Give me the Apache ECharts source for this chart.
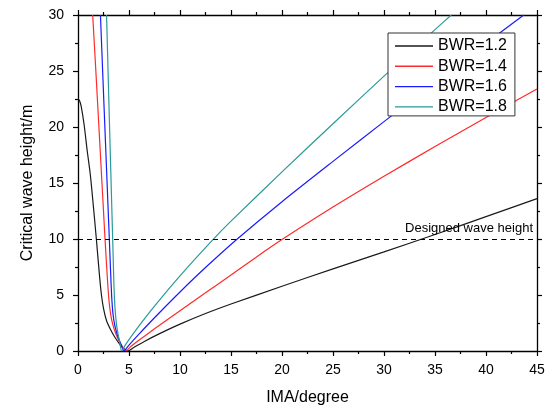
<!DOCTYPE html>
<html>
<head>
<meta charset="utf-8">
<script src="https://cdn.jsdelivr.net/npm/echarts@6/dist/echarts.min.js"></script>
<style>
html,body{margin:0;padding:0;background:#fff;}
#c{width:547px;height:405px;}
</style>
</head>
<body>
<div id="c"></div>
<script>
// Data: [IMA (degree), critical wave height (m)]
const bwr12 = [[0,22.5],[0.15,22.35],[0.3,21.9],[0.6,20.2],[0.9,17.9],[1.2,15.8],[1.5,13.0],[1.8,10.0],[2.1,6.8],[2.3,5.0],[2.5,3.8],[2.8,2.7],[3.2,1.9],[3.6,1.25],[4.1,0.6],[4.5,0.2],[4.9,0],
  [5.5,0.33],[6.5,0.85],[8,1.55],[10,2.4],[12.5,3.35],[15,4.2],[20,5.78],[25,7.33],[30,8.85],[35,10.4],[40,12.0],[45,13.6]];
const bwr14 = [[1.44,30],[1.75,25],[2.05,20],[2.35,15],[2.65,10],[2.9,6.2],[3.05,4.4],[3.2,3.3],[3.4,2.4],[3.7,1.55],[4.0,0.95],[4.35,0.4],[4.7,0],
  [5.2,0.42],[6,0.98],[7.5,1.98],[10,3.6],[12.5,5.2],[15,6.78],[17.5,8.4],[20,9.95],[25,12.85],[30,15.6],[35,18.25],[40,20.85],[45,23.4]];
const bwr16 = [[2.2,30],[2.45,24.2],[2.7,18.5],[2.9,13.9],[3.08,9.8],[3.2,7.0],[3.3,4.9],[3.42,3.4],[3.6,2.3],[3.85,1.45],[4.1,0.85],[4.3,0.4],[4.5,0],
  [5,0.53],[6,1.53],[7.5,2.97],[10,5.27],[12.5,7.45],[15.5,9.91],[20,13.33],[25,16.93],[30,20.48],[35,23.98],[40,27.48],[43.7,30]];
const bwr18 = [[2.8,30],[2.97,24.2],[3.2,16.5],[3.4,10],[3.5,6.6],[3.57,4.8],[3.67,3.3],[3.8,2.2],[3.95,1.4],[4.1,0.75],[4.28,0],
  [4.6,0.48],[5,1.02],[6,2.27],[7.5,4.01],[10,6.71],[13.3,10.01],[15,11.59],[20,15.99],[25,20.29],[30,24.54],[35,28.69],[36.6,30]];
const seriesNames = ['BWR=1.2','BWR=1.4','BWR=1.6','BWR=1.8'];
const seriesColors = ['#1a1a1a','#ff2a2a','#1a1aff','#2a9a9a'];
const designedHeight = 10;
const designedLabel = 'Designed wave height';
const xRange = [0,45], xStep = 5;
const yRange = [0,30], yStep = 5;
const xName = 'IMA/degree';
const yName = 'Critical wave height/m';

const chart = echarts.init(document.getElementById('c'), null, {renderer:'canvas'});
const FONT = 'Liberation Sans, Arial, sans-serif';
const axisBase = {
  type:'value', splitLine:{show:false},
  axisLine:{show:true, onZero:false, lineStyle:{color:'#000', width:1.3}},
  axisTick:{show:true, inside:false, length:5, lineStyle:{color:'#000', width:1.2}},
  minorTick:{show:true, splitNumber:2, length:3, lineStyle:{color:'#000', width:1.2}},
  minorSplitLine:{show:false}
};
const datasets = [bwr12, bwr14, bwr16, bwr18];
const series = datasets.map((d,i)=>{
  const s = {
    name: seriesNames[i], type:'line', data:d, symbol:'none', showSymbol:false, smooth:0.25,
    lineStyle:{color:seriesColors[i], width:1.2}, itemStyle:{color:seriesColors[i]},
    clip:true, animation:false
  };
  if (i===0) {
    s.markLine = {
      silent:true, symbol:['none','none'], animation:false,
      lineStyle:{color:'#000', type:[5,4], width:1.1},
      label:{show:true, position:'insideEndTop', formatter:designedLabel, color:'#000', fontSize:13, fontFamily:FONT, distance:[4,4]},
      data:[{yAxis:designedHeight}]
    };
  }
  return s;
});
chart.setOption({
  backgroundColor:'#fff',
  animation:false,
  grid:{left:78, right:10, top:15, bottom:54, containLabel:false, outerBoundsMode:'none'},
  legend:{
    show:true, icon:'rect',
    data:seriesNames, orient:'vertical', left:388, top:33,
    padding:[5,8,1,7], itemGap:4.3, itemWidth:38, itemHeight:1.4,
    borderColor:'#333', borderWidth:1, backgroundColor:'#fff',
    textStyle:{color:'#000', fontSize:16, fontFamily:FONT, lineHeight:16}
  },
  xAxis:[
    Object.assign({}, axisBase, {min:xRange[0], max:xRange[1], interval:xStep, position:'bottom',
      name:xName, nameLocation:'middle', nameGap:39, nameTextStyle:{color:'#000', fontSize:16, fontFamily:FONT},
      axisLabel:{color:'#000', fontSize:14, fontFamily:FONT, margin:12}}),
    Object.assign({}, axisBase, {min:xRange[0], max:xRange[1], interval:xStep, position:'top', axisLabel:{show:false}})
  ],
  yAxis:[
    Object.assign({}, axisBase, {min:yRange[0], max:yRange[1], interval:yStep, position:'left',
      name:yName, nameLocation:'middle', nameGap:42, nameRotate:90, nameTextStyle:{color:'#000', fontSize:16, fontFamily:FONT},
      axisLabel:{color:'#000', fontSize:14, fontFamily:FONT, margin:14}}),
    Object.assign({}, axisBase, {min:yRange[0], max:yRange[1], interval:yStep, position:'right', axisLabel:{show:false}})
  ],
  series: series
});
</script>
</body>
</html>
